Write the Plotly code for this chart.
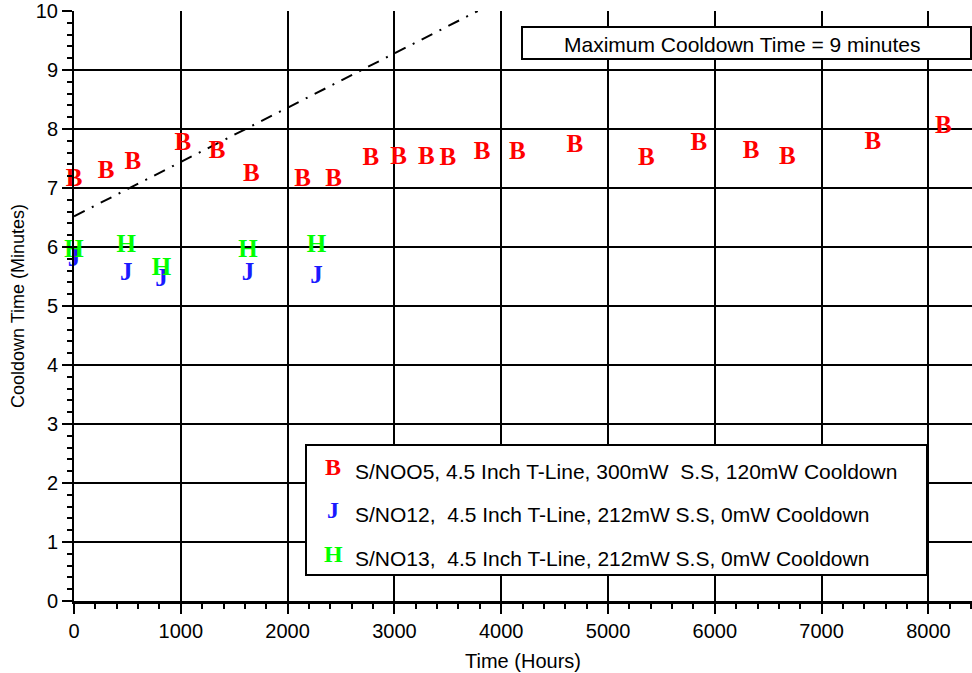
import plotly.graph_objects as go

# ---- data ----
sn05_hours = [0, 300, 550, 1020, 1340, 1660, 2140, 2430, 2780, 3040, 3300, 3500,
              3820, 4150, 4690, 5360, 5850, 6340, 6680, 7480, 8140]
sn05_minutes = [7.14, 7.27, 7.42, 7.75, 7.61, 7.22, 7.14, 7.14, 7.49, 7.51, 7.51, 7.49,
                7.59, 7.59, 7.71, 7.49, 7.75, 7.61, 7.52, 7.76, 8.03]
sn12_hours = [0, 490, 820, 1630, 2270]
sn12_minutes = [5.78, 5.54, 5.44, 5.54, 5.49]
sn13_hours = [0, 490, 820, 1630, 2270]
sn13_minutes = [5.93, 6.02, 5.63, 5.93, 6.02]
trend_hours = [0, 3780]
trend_minutes = [6.52, 10.0]

series_names = ["S/NOO5, 4.5 Inch T-Line, 300mW  S.S, 120mW Cooldown",
                "S/NO12,  4.5 Inch T-Line, 212mW S.S, 0mW Cooldown",
                "S/NO13,  4.5 Inch T-Line, 212mW S.S, 0mW Cooldown"]
series_glyphs = ["B", "J", "H"]
series_colors = ["#ff0000", "#1a1aff", "#00ff00"]
note_text = "Maximum Cooldown Time = 9 minutes"

FONT = "Arial, Liberation Sans, sans-serif"
GLYPH_FONT = "Liberation Serif, Times New Roman, serif"

fig = go.Figure()

fig.add_trace(go.Scatter(x=trend_hours, y=trend_minutes, mode="lines",
                         line=dict(color="black", width=2, dash="12px,8px,2px,8px"),
                         showlegend=False, hoverinfo="skip"))

for xs, ys, g, c in [(sn05_hours, sn05_minutes, series_glyphs[0], series_colors[0]),
                     (sn12_hours, sn12_minutes, series_glyphs[1], series_colors[1]),
                     (sn13_hours, sn13_minutes, series_glyphs[2], series_colors[2])]:
    fig.add_trace(go.Scatter(x=xs, y=ys, mode="text", text=[g] * len(xs),
                             textposition="middle center", cliponaxis=False,
                             textfont=dict(family=GLYPH_FONT, size=25, color=c, weight="bold"),
                             showlegend=False))

W, H = 972, 673
ml, mr, mt, mb = 74, 0, 11, 72
pw, ph = W - ml - mr, H - mt - mb

def px(x):
    return (x - ml) / pw

def py(y):
    return 1 - (y - mt) / ph

shapes = []
annotations = []

# note box
shapes.append(dict(type="rect", xref="paper", yref="paper",
                   x0=px(522), x1=px(971), y0=py(59), y1=py(27),
                   line=dict(color="black", width=2), fillcolor="white", layer="above"))
annotations.append(dict(xref="paper", yref="paper", x=px(742), y=py(45),
                        text=note_text, showarrow=False, xanchor="center", yanchor="middle",
                        font=dict(family=FONT, size=21, color="black")))

# legend box
shapes.append(dict(type="rect", xref="paper", yref="paper",
                   x0=px(306), x1=px(927), y0=py(575), y1=py(445),
                   line=dict(color="black", width=2), fillcolor="white", layer="above"))
rows = [471, 514, 558]
for i in range(3):
    annotations.append(dict(xref="paper", yref="paper", x=px(333), y=py(rows[i] - 4),
                            text=series_glyphs[i], showarrow=False, xanchor="center", yanchor="middle",
                            font=dict(family=GLYPH_FONT, size=24, color=series_colors[i], weight="bold")))
    annotations.append(dict(xref="paper", yref="paper", x=px(353), y=py(rows[i]),
                            text=series_names[i].replace("  ", "&nbsp; "), showarrow=False,
                            xanchor="left", yanchor="middle",
                            font=dict(family=FONT, size=21, color="black")))

fig.update_layout(
    width=W, height=H,
    margin=dict(l=ml, r=mr, t=mt, b=mb, autoexpand=False),
    paper_bgcolor="white", plot_bgcolor="white",
    font=dict(family=FONT, color="black"),
    shapes=shapes, annotations=annotations,
    showlegend=False,
)

fig.update_xaxes(range=[0, 8408], tickvals=[0, 1000, 2000, 3000, 4000, 5000, 6000, 7000, 8000],
                 automargin=False,
                 showgrid=True, gridcolor="black", gridwidth=2,
                 showline=True, linecolor="black", linewidth=3, zeroline=False,
                 ticks="outside", ticklen=10, tickwidth=2, tickcolor="black",
                 minor=dict(dtick=200, tick0=0, ticks="outside", ticklen=5, tickwidth=2,
                            tickcolor="black", showgrid=False),
                 tickfont=dict(size=20, family=FONT),
                 title=dict(text="Time (Hours)", font=dict(size=20, family=FONT), standoff=13))
fig.update_yaxes(range=[0, 10], tickvals=list(range(0, 11)),
                 automargin=False,
                 showgrid=True, gridcolor="black", gridwidth=2,
                 showline=True, linecolor="black", linewidth=2, zeroline=False,
                 ticks="outside", ticklen=10, tickwidth=2, tickcolor="black",
                 minor=dict(dtick=0.2, tick0=0, ticks="outside", ticklen=5, tickwidth=2,
                            tickcolor="black", showgrid=False),
                 tickfont=dict(size=20, family=FONT),
                 title=dict(text="Cooldown Time (Minutes)", font=dict(size=18, family=FONT), standoff=6))

fig.write_html("out.html", config={"displayModeBar": False},
               post_script="document.body.style.margin='0';document.body.style.padding='0';")
